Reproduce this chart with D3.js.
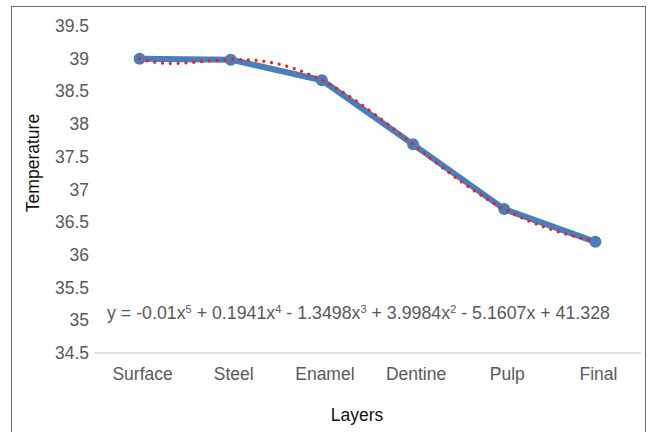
<!DOCTYPE html>
<html>
<head>
<meta charset="utf-8">
<script src="https://cdn.jsdelivr.net/npm/d3@7"></script>
<style>
  html, body { margin: 0; padding: 0; background: #fff; }
  svg { display: block; font-family: "Liberation Sans", Arial, sans-serif; }
</style>
</head>
<body>
<div id="chart"></div>
<script>
// values
const layers = ['Surface', 'Steel', 'Enamel', 'Dentine', 'Pulp', 'Final'];
const temperature = [39.0, 38.985, 38.67, 37.69, 36.70, 36.20];
const yTicks = [34.5, 35, 35.5, 36, 36.5, 37, 37.5, 38, 38.5, 39, 39.5];
// trendline label as Excel prints it: [coefficient text, power]
const eqTerms = [['y = -0.01x', '5'], [' + 0.1941x', '4'], [' - 1.3498x', '3'], [' + 3.9984x', '2'], [' - 5.1607x + 41.328', null]];

const W = 653, H = 432;
const M = { left: 94, right: 641, top: 26, bottom: 353 };
const FS = 17.5;

const svg = d3.select('#chart').append('svg')
  .attr('width', W).attr('height', H);

// chart frame
svg.append('rect')
  .attr('x', 11.5).attr('y', 6.5).attr('width', 634).attr('height', 440)
  .attr('fill', 'none').attr('stroke', '#6b6b6b').attr('stroke-width', 1);

const x = d3.scaleBand().domain(layers).range([M.left, M.right]);
const cx = d => x(d) + x.bandwidth() / 2;
const y = d3.scaleLinear().domain([34.5, 39.5]).range([M.bottom, M.top]);

// y tick labels
svg.append('g').selectAll('text').data(yTicks).join('text')
  .attr('x', 89).attr('y', d => y(d) + 6)
  .attr('text-anchor', 'end').attr('font-size', FS).attr('fill', '#595959')
  .text(d => d);

// category axis line
svg.append('line')
  .attr('x1', M.left).attr('x2', M.right).attr('y1', y(34.5)).attr('y2', y(34.5))
  .attr('stroke', '#d9d9d9').attr('stroke-width', 1.5);

// x tick labels
svg.append('g').selectAll('text').data(layers).join('text')
  .attr('x', d => cx(d) + 3).attr('y', 380)
  .attr('text-anchor', 'middle').attr('font-size', FS).attr('fill', '#595959')
  .text(d => d);

// axis titles
svg.append('text')
  .attr('transform', 'translate(39,163) rotate(-90)')
  .attr('text-anchor', 'middle').attr('font-size', FS).attr('fill', '#111')
  .text('Temperature');
svg.append('text')
  .attr('x', 357).attr('y', 421)
  .attr('text-anchor', 'middle').attr('font-size', FS).attr('fill', '#111')
  .text('Layers');

// series
const pts = layers.map((l, i) => ({ l, v: temperature[i] }));
svg.append('path')
  .datum(pts)
  .attr('fill', 'none').attr('stroke', '#4a7ebb').attr('stroke-width', 6)
  .attr('stroke-linejoin', 'round')
  .attr('d', d3.line().x(d => cx(d.l)).y(d => y(d.v)));
svg.append('g').selectAll('circle').data(pts).join('circle')
  .attr('cx', d => cx(d.l)).attr('cy', d => y(d.v)).attr('r', 6)
  .attr('fill', '#4a7ebb');

// 5th order polynomial trendline: with 6 points it passes through every point
function poly(t) {
  let s = 0;
  temperature.forEach((vi, i) => {
    let p = vi;
    temperature.forEach((_, j) => { if (j !== i) p *= (t - j) / (i - j); });
    s += p;
  });
  return s;
}
const step = x.step();
const trend = d3.range(0, layers.length - 1 + 1e-9, 0.02).map(t => [cx(layers[0]) + t * step, y(poly(t))]);
svg.append('path')
  .datum(trend)
  .attr('fill', 'none').attr('stroke', '#f02020').attr('stroke-width', 3.2)
  .attr('stroke-linecap', 'round').attr('stroke-dasharray', '0.01 7.8')
  .attr('d', d3.line());

// equation label
const eq = svg.append('text')
  .attr('x', 107).attr('y', 319).attr('font-size', 17.8).attr('fill', '#595959');
let raised = false;
eqTerms.forEach(([txt, pow]) => {
  eq.append('tspan').attr('dy', raised ? 6 : 0).text(txt);
  raised = false;
  if (pow) {
    eq.append('tspan').attr('font-size', 11).attr('dy', -6).text(pow);
    raised = true;
  }
});
</script>
</body>
</html>
